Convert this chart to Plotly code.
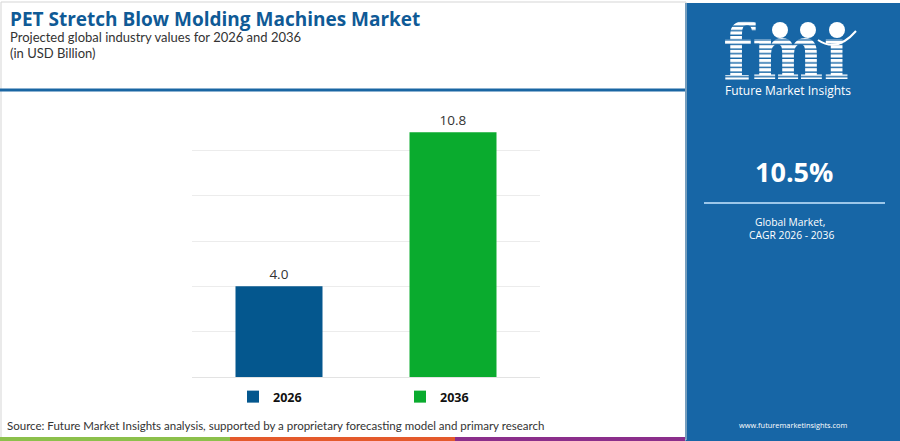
import base64
import plotly.graph_objects as go

# chart data
years = ["2026", "2036"]
values = [4.0, 10.8]
bar_colors = ["#04578e", "#0aab2e"]
cagr_text = "10.5%"

W, H = 900, 441


def px(x):
    return x / W


def py(y):
    return 1 - y / H


# striped "fmi" logo as an inline svg image
logo_svg = """<svg xmlns='http://www.w3.org/2000/svg' width='140' height='75' viewBox='0 0 140 75'>
<defs><pattern id='st' width='6' height='4.6' patternUnits='userSpaceOnUse'>
<rect width='6' height='3.2' fill='white'/></pattern></defs>
<text x='6' y='66' font-family='DejaVu Serif' font-weight='bold' font-size='76'
 textLength='126' lengthAdjust='spacingAndGlyphs' fill='url(#st)'>fm\u0131</text>
<circle cx='63' cy='17' r='8' fill='white'/>
<circle cx='91' cy='17' r='8' fill='white'/>
<circle cx='120' cy='17' r='8' fill='white'/>
<path d='M101 27 Q120 40 139 18' stroke='white' stroke-width='2' fill='none'/>
</svg>"""
logo_uri = "data:image/svg+xml;base64," + base64.b64encode(logo_svg.encode()).decode()

font = "Open Sans, sans-serif"
thin = "Lato, sans-serif"

fig = go.Figure()

for year, val, col in zip(years, values, bar_colors):
    fig.add_trace(
        go.Bar(
            x=[year],
            y=[val],
            name=f"<b>{year}</b>",
            marker=dict(color=col, line=dict(width=0)),
            text=[f"{val:.1f}"],
            textposition="outside",
            textfont=dict(family=font, size=13.5, color="#333333"),
            cliponaxis=False,
            hoverinfo="skip",
        )
    )

shapes = [
    # outer frame of left part
    dict(type="rect", xref="paper", yref="paper", x0=px(1), x1=px(686), y0=py(440), y1=py(2),
         line=dict(color="#d5d5d5", width=1)),
    # blue separator under header
    dict(type="line", xref="paper", yref="paper", x0=0, x1=px(685), y0=py(90), y1=py(90),
         line=dict(color="#1a66a3", width=3)),
    # right panel
    dict(type="rect", xref="paper", yref="paper", x0=px(685), x1=1, y0=0, y1=py(3),
         fillcolor="#1766a6", line=dict(width=0), layer="below"),
    dict(type="line", xref="paper", yref="paper", x0=px(704), x1=px(885), y0=py(203), y1=py(203),
         line=dict(color="#9cc7ea", width=2)),
    # bottom colour strip
    dict(type="rect", xref="paper", yref="paper", x0=0, x1=px(230), y0=0, y1=py(437),
         fillcolor="#8cc04b", line=dict(width=0)),
    dict(type="rect", xref="paper", yref="paper", x0=px(230), x1=px(455), y0=0, y1=py(437),
         fillcolor="#e45a2c", line=dict(width=0)),
    dict(type="rect", xref="paper", yref="paper", x0=px(455), x1=px(685), y0=0, y1=py(437),
         fillcolor="#8b2f8b", line=dict(width=0)),
]

annotations = [
    dict(text="<b>PET Stretch Blow Molding Machines Market</b>", x=px(8), y=py(19),
         font=dict(family=font, size=19, color="#0f5a96")),
    dict(text="Projected global industry values for 2026 and 2036", x=px(8), y=py(37),
         font=dict(family=thin, size=13, color="#333333")),
    dict(text="(in USD Billion)", x=px(8), y=py(53),
         font=dict(family=thin, size=13, color="#333333")),
    dict(text="Source: Future Market Insights analysis, supported by a proprietary forecasting model and primary research",
         x=px(5), y=py(425), font=dict(family=thin, size=11.5, color="#333333")),
    dict(text="Future Market Insights", x=px(788), y=py(91), xanchor="center",
         font=dict(family=font, size=12, color="white")),
    dict(text="<b>" + cagr_text + "</b>", x=px(794), y=py(171), xanchor="center",
         font=dict(family=font, size=27, color="white")),
    dict(text="Global Market,", x=px(790), y=py(222), xanchor="center",
         font=dict(family=font, size=10.3, color="white")),
    dict(text="CAGR 2026 - 2036", x=px(791), y=py(235), xanchor="center",
         font=dict(family=font, size=10.3, color="white")),
    dict(text="www.futuremarketinsights.com", x=px(793), y=py(425), xanchor="center",
         font=dict(family=font, size=7.4, color="white")),
]
for a in annotations:
    a.setdefault("xanchor", "left")
    a.update(xref="paper", yref="paper", yanchor="middle", showarrow=False)

fig.update_layout(
    width=W,
    height=H,
    margin=dict(l=0, r=0, t=0, b=0),
    paper_bgcolor="white",
    plot_bgcolor="white",
    barmode="overlay",
    bargap=0.5,
    xaxis=dict(domain=[px(192), px(540)], showticklabels=False, showgrid=False,
               zeroline=False, fixedrange=True),
    yaxis=dict(domain=[py(377), py(105)], range=[0, 12], dtick=2, showticklabels=False,
               showgrid=True, gridcolor="#ececec", gridwidth=1, zeroline=True,
               zerolinecolor="#e3e3e3", zerolinewidth=1, fixedrange=True),
    showlegend=True,
    legend=dict(orientation="h", x=px(233), y=py(397), xanchor="left", yanchor="middle",
                entrywidth=122, entrywidthmode="pixels", itemwidth=30, traceorder="normal",
                font=dict(family=font, size=12.5, color="#111111"), itemclick=False),
    shapes=shapes,
    annotations=annotations,
    images=[dict(source=logo_uri, xref="paper", yref="paper", x=px(717), y=py(13),
                 sizex=px(140), sizey=75 / H, xanchor="left", yanchor="top",
                 sizing="stretch", layer="above")],
    font=dict(family=font),
)

# drop the browser's default page margin so the figure sits at the window corner
fig.write_html("out.html", config={"displayModeBar": False},
               post_script="document.body.style.margin='0';")
